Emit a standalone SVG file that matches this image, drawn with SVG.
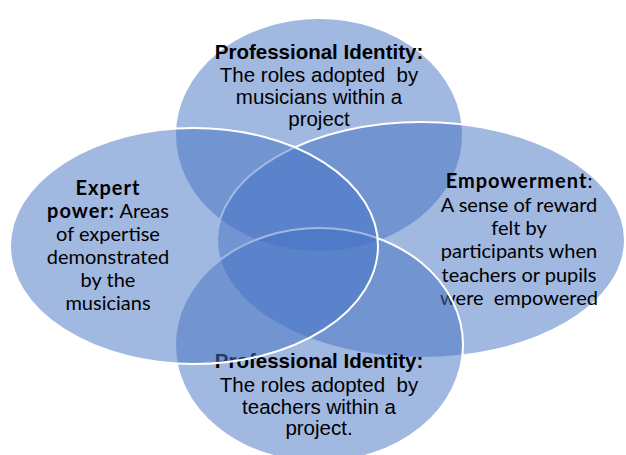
<svg xmlns="http://www.w3.org/2000/svg" width="626" height="455" viewBox="0 0 626 455">
<style>
.blob{fill:#4472C4;fill-opacity:0.5;stroke:#FFFFFF;stroke-width:2}
.a{font-family:"Liberation Sans",Arial,sans-serif;font-size:20.5px;fill:#000;text-anchor:middle}
.c{font-family:Lato,"Liberation Sans",sans-serif;font-size:20px;fill:#000;text-anchor:middle}
.b{font-weight:bold}
.cb{font-weight:bold;letter-spacing:1px}
</style>
<rect width="626" height="455" fill="#FFFFFF"/>
<g id="connectors"/>
<g id="node-musicians-identity">
<ellipse class="blob" cx="319" cy="135" rx="144" ry="117"/>
<text class="a b" x="319" y="59">Professional Identity:</text>
<text class="a" x="319" y="81.5" xml:space="preserve">The roles adopted  by</text>
<text class="a" x="319" y="104">musicians within a</text>
<text class="a" x="319" y="126">project</text>
</g>
<g id="node-empowerment">
<ellipse class="blob" cx="421" cy="240" rx="204" ry="118"/>
<text class="c" x="519" y="188"><tspan class="cb">Empowerment</tspan>:</text>
<text class="c" x="519" y="211.5">A sense of reward</text>
<text class="c" x="519" y="234.5">felt by</text>
<text class="c" x="519" y="258">participants when</text>
<text class="c" x="519" y="281.5">teachers or pupils</text>
<text class="c" x="519" y="305" xml:space="preserve">were  empowered</text>
</g>
<g id="node-teachers-identity">
<ellipse class="blob" cx="319" cy="345" rx="144" ry="117"/>
<text class="a b" x="319" y="368">Professional Identity:</text>
<text class="a" x="319" y="391.5" xml:space="preserve">The roles adopted  by</text>
<text class="a" x="319" y="414">teachers within a</text>
<text class="a" x="319" y="435">project.</text>
</g>
<g id="node-expert-power">
<ellipse class="blob" cx="194" cy="246" rx="184" ry="118"/>
<text class="c cb" x="108" y="195">Expert</text>
<text class="c" x="108" y="218"><tspan class="cb">power:</tspan> Areas</text>
<text class="c" x="108" y="241">of expertise</text>
<text class="c" x="108" y="264">demonstrated</text>
<text class="c" x="108" y="287">by the</text>
<text class="c" x="108" y="310">musicians</text>
</g>
</svg>
